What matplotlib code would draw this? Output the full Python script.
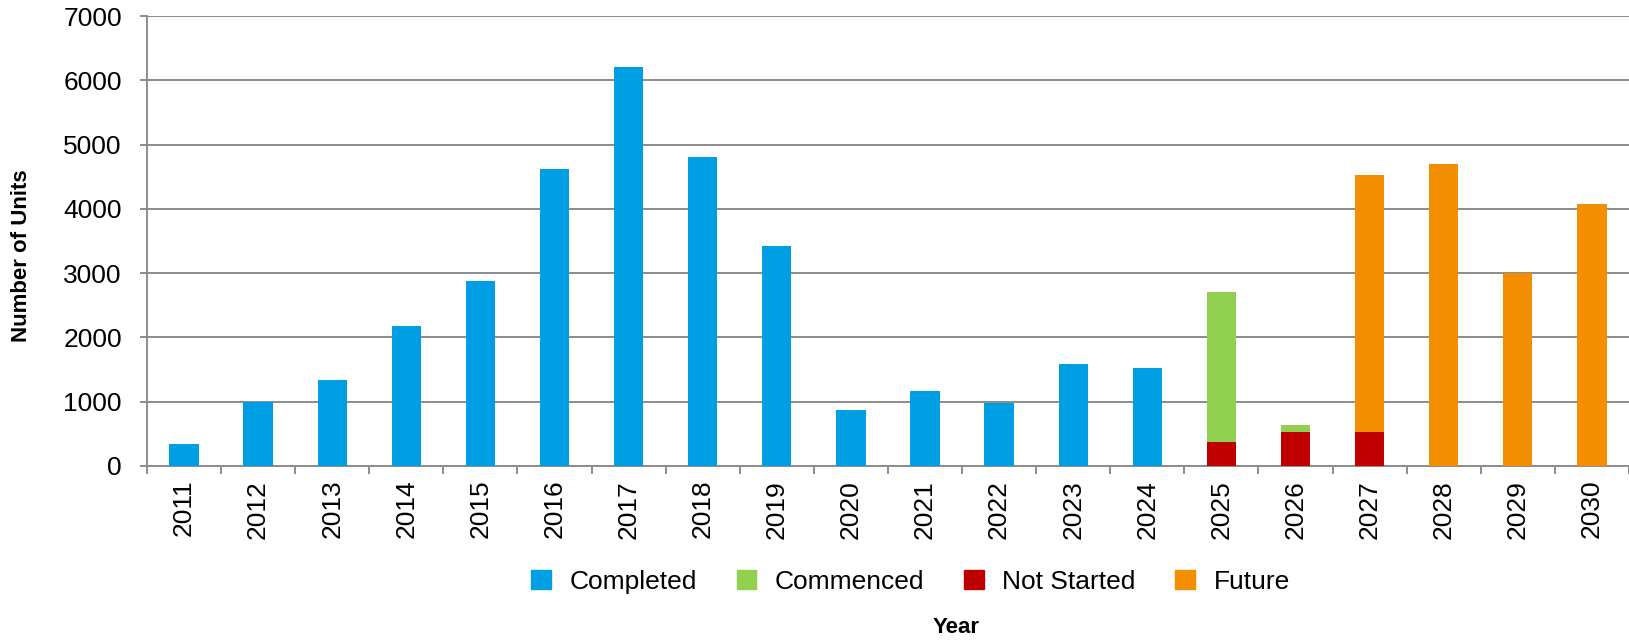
import matplotlib
matplotlib.use("Agg")
import matplotlib.pyplot as plt
import matplotlib.patches as mpatches
import numpy as np

plt.rcParams['font.family'] = ['Liberation Sans', 'DejaVu Sans']

years = [str(y) for y in range(2011, 2031)]
completed = [340, 1000, 1330, 2170, 2880, 4620, 6200, 4800, 3420, 870,
             1170, 980, 1580, 1520, 0, 0, 0, 0, 0, 0]
not_started = [0, 0, 0, 0, 0, 0, 0, 0, 0, 0,
               0, 0, 0, 0, 375, 530, 530, 0, 0, 0]
commenced = [0, 0, 0, 0, 0, 0, 0, 0, 0, 0,
             0, 0, 0, 0, 2325, 110, 0, 0, 0, 0]
future = [0, 0, 0, 0, 0, 0, 0, 0, 0, 0,
          0, 0, 0, 0, 0, 0, 3990, 4690, 3000, 4070]

c_completed = '#009FE3'
c_commenced = '#92D050'
c_notstarted = '#C00000'
c_future = '#F28E00'
grid_c = '#8C8C8C'

fig = plt.figure(figsize=(16.29, 6.40), dpi=100)
ax = fig.add_axes([0.0902, 0.272, 0.9098, 0.703])

x = np.arange(len(years))
w = 0.395
ns = np.array(not_started)
cm = np.array(commenced)
ax.bar(x, completed, w, color=c_completed, zorder=3)
ax.bar(x, not_started, w, color=c_notstarted, zorder=3)
ax.bar(x, commenced, w, bottom=ns, color=c_commenced, zorder=3)
ax.bar(x, future, w, bottom=ns + cm, color=c_future, zorder=3)

ax.set_xlim(-0.5, len(years) - 0.5)
ax.set_ylim(0, 7000)
ax.set_yticks(np.arange(0, 7001, 1000))
ax.yaxis.grid(True, color=grid_c, linewidth=1.4, zorder=0)
ax.set_axisbelow(True)

ax.set_xticks(x)
ax.set_xticklabels(years, rotation=90, fontsize=19)
ax.set_xticks(np.arange(-0.5, len(years), 1.0), minor=True)
ax.tick_params(axis='x', which='major', length=0, pad=10)
ax.tick_params(axis='x', which='minor', length=6, width=1.4, color=grid_c, direction='out')
ax.tick_params(axis='y', length=5, width=1.4, color=grid_c, pad=13, labelsize=19)

for s in ['top', 'right']:
    ax.spines[s].set_visible(False)
ax.spines['left'].set_color(grid_c)
ax.spines['left'].set_linewidth(1.4)
ax.spines['bottom'].set_color(grid_c)
ax.spines['bottom'].set_linewidth(1.4)

fig.text(0.013, 0.60, 'Number of Units', rotation=90, ha='center', va='center',
         fontsize=16, fontweight='bold')
fig.text(0.587, 0.02, 'Year', ha='center', va='center', fontsize=16, fontweight='bold')

handles = [mpatches.Patch(color=c_completed, label='Completed'),
           mpatches.Patch(color=c_commenced, label='Commenced'),
           mpatches.Patch(color=c_notstarted, label='Not Started'),
           mpatches.Patch(color=c_future, label='Future')]
fig.legend(handles=handles, loc='center', bbox_to_anchor=(0.559, 0.0906), ncol=4,
           frameon=False, fontsize=19, handlelength=0.75, handleheight=0.75,
           handletextpad=0.7, columnspacing=1.5, borderpad=0)

fig.savefig('out.png', dpi=100)
